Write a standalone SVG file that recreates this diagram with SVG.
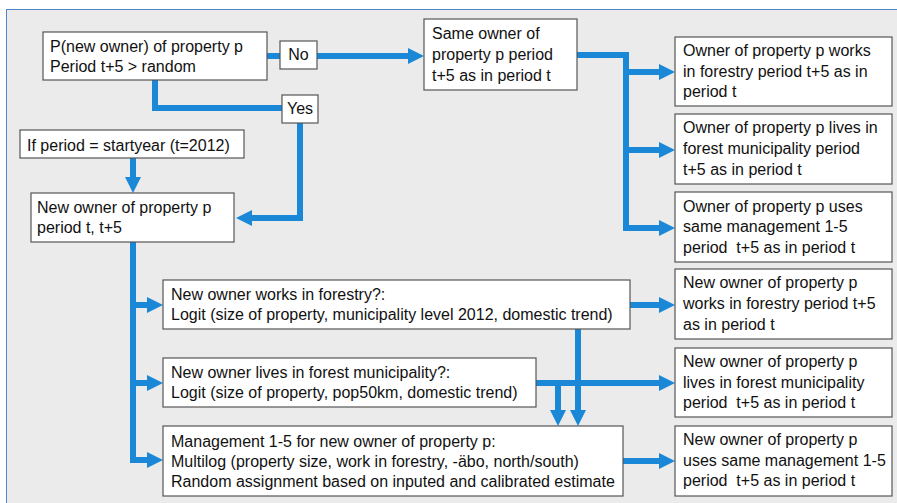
<svg xmlns="http://www.w3.org/2000/svg" width="897" height="503" viewBox="0 0 897 503">
<style>
.box{fill:#ffffff;stroke:#555555;stroke-width:1.2}
.t{font-family:"Liberation Sans",Arial,sans-serif;font-size:16px;fill:#111111}
.c{fill:none;stroke:#1a87d7;stroke-width:6;stroke-linejoin:miter}
.a{marker-end:url(#ah)}
</style>
<defs>
<marker id="ah" markerUnits="userSpaceOnUse" markerWidth="16" markerHeight="16" refX="2" refY="8" orient="auto">
<path d="M0,0 L16,8 L0,16 z" fill="#1a87d7"/>
</marker>
</defs>
<rect x="0" y="0" width="897" height="503" fill="#ffffff"/>
<rect x="6.5" y="9.5" width="900" height="500" fill="#ebebeb" stroke="#4a86c8" stroke-width="1"/>
<g id="connectors">
<path class="c" d="M267,56 H280"/>
<path class="c a" d="M317,56 H410"/>
<path class="c" d="M155,80 V108 H282"/>
<path class="c a" d="M300,123 V218 H250"/>
<path class="c a" d="M133,158 V179"/>
<path class="c a" d="M133,242 V460 H149"/>
<path class="c a" d="M133,305 H149"/>
<path class="c a" d="M133,383 H149"/>
<path class="c a" d="M577,55 H626 V228 H661"/>
<path class="c a" d="M626,72 H661"/>
<path class="c a" d="M626,150 H661"/>
<path class="c a" d="M630,305 H661"/>
<path class="c a" d="M536,383 H661"/>
<path class="c a" d="M578,329 V412"/>
<path class="c a" d="M558,383 V412"/>
<path class="c a" d="M623,461 H661"/>
</g>
<g id="pnew">
<rect class="box" x="43" y="32" width="224" height="48"/>
<text class="t" x="50" y="52">P(new owner) of property p</text>
<text class="t" x="50" y="72">Period t+5 &gt; random</text>
</g>
<g id="no">
<rect class="box" x="280" y="41" width="37" height="28"/>
<text class="t" x="298.5" y="60" text-anchor="middle">No</text>
</g>
<g id="yes">
<rect class="box" x="282" y="95" width="36" height="28"/>
<text class="t" x="300" y="114" text-anchor="middle">Yes</text>
</g>
<g id="same">
<rect class="box" x="424" y="19" width="153" height="71"/>
<text class="t" x="432" y="39">Same owner of</text>
<text class="t" x="432" y="60">property p period</text>
<text class="t" x="432" y="81">t+5 as in period t</text>
</g>
<g id="startyear">
<rect class="box" x="20" y="130" width="224" height="28"/>
<text class="t" x="27" y="151">If period = startyear (t=2012)</text>
</g>
<g id="newowner">
<rect class="box" x="31" y="193" width="203" height="49"/>
<text class="t" x="37" y="213">New owner of property p</text>
<text class="t" x="37" y="233">period t, t+5</text>
</g>
<g id="works">
<rect class="box" x="163" y="280" width="467" height="49"/>
<text class="t" x="171" y="300">New owner works in forestry?:</text>
<text class="t" x="171" y="320">Logit (size of property, municipality level 2012, domestic trend)</text>
</g>
<g id="lives">
<rect class="box" x="163" y="358" width="373" height="49"/>
<text class="t" x="171" y="378">New owner lives in forest municipality?:</text>
<text class="t" x="171" y="398">Logit (size of property, pop50km, domestic trend)</text>
</g>
<g id="management">
<rect class="box" x="163" y="426" width="460" height="70"/>
<text class="t" x="171" y="447">Management 1-5 for new owner of property p:</text>
<text class="t" x="171" y="467">Multilog (property size, work in forestry, -äbo, north/south)</text>
<text class="t" x="171" y="487">Random assignment based on inputed and calibrated estimate</text>
</g>
<g id="r1">
<rect class="box" x="675" y="37" width="217" height="69"/>
<text class="t" x="683" y="56">Owner of property p works</text>
<text class="t" x="683" y="77">in forestry period t+5 as in</text>
<text class="t" x="683" y="97">period t</text>
</g>
<g id="r2">
<rect class="box" x="675" y="114" width="217" height="70"/>
<text class="t" x="683" y="133">Owner of property p lives in</text>
<text class="t" x="683" y="154">forest municipality period</text>
<text class="t" x="683" y="175">t+5 as in period t</text>
</g>
<g id="r3">
<rect class="box" x="675" y="192" width="217" height="70"/>
<text class="t" x="683" y="212">Owner of property p uses</text>
<text class="t" x="683" y="232">same management 1-5</text>
<text class="t" x="683" y="253" xml:space="preserve">period  t+5 as in period t</text>
</g>
<g id="r4">
<rect class="box" x="675" y="269" width="217" height="70"/>
<text class="t" x="683" y="288">New owner of property p</text>
<text class="t" x="683" y="309">works in forestry period t+5</text>
<text class="t" x="683" y="330">as in period t</text>
</g>
<g id="r5">
<rect class="box" x="675" y="348" width="217" height="69"/>
<text class="t" x="683" y="367">New owner of property p</text>
<text class="t" x="683" y="388">lives in forest municipality</text>
<text class="t" x="683" y="408" xml:space="preserve">period  t+5 as in period t</text>
</g>
<g id="r6">
<rect class="box" x="675" y="426" width="217" height="70"/>
<text class="t" x="683" y="445">New owner of property p</text>
<text class="t" x="683" y="466">uses same management 1-5</text>
<text class="t" x="683" y="486" xml:space="preserve">period  t+5 as in period t</text>
</g>
</svg>
